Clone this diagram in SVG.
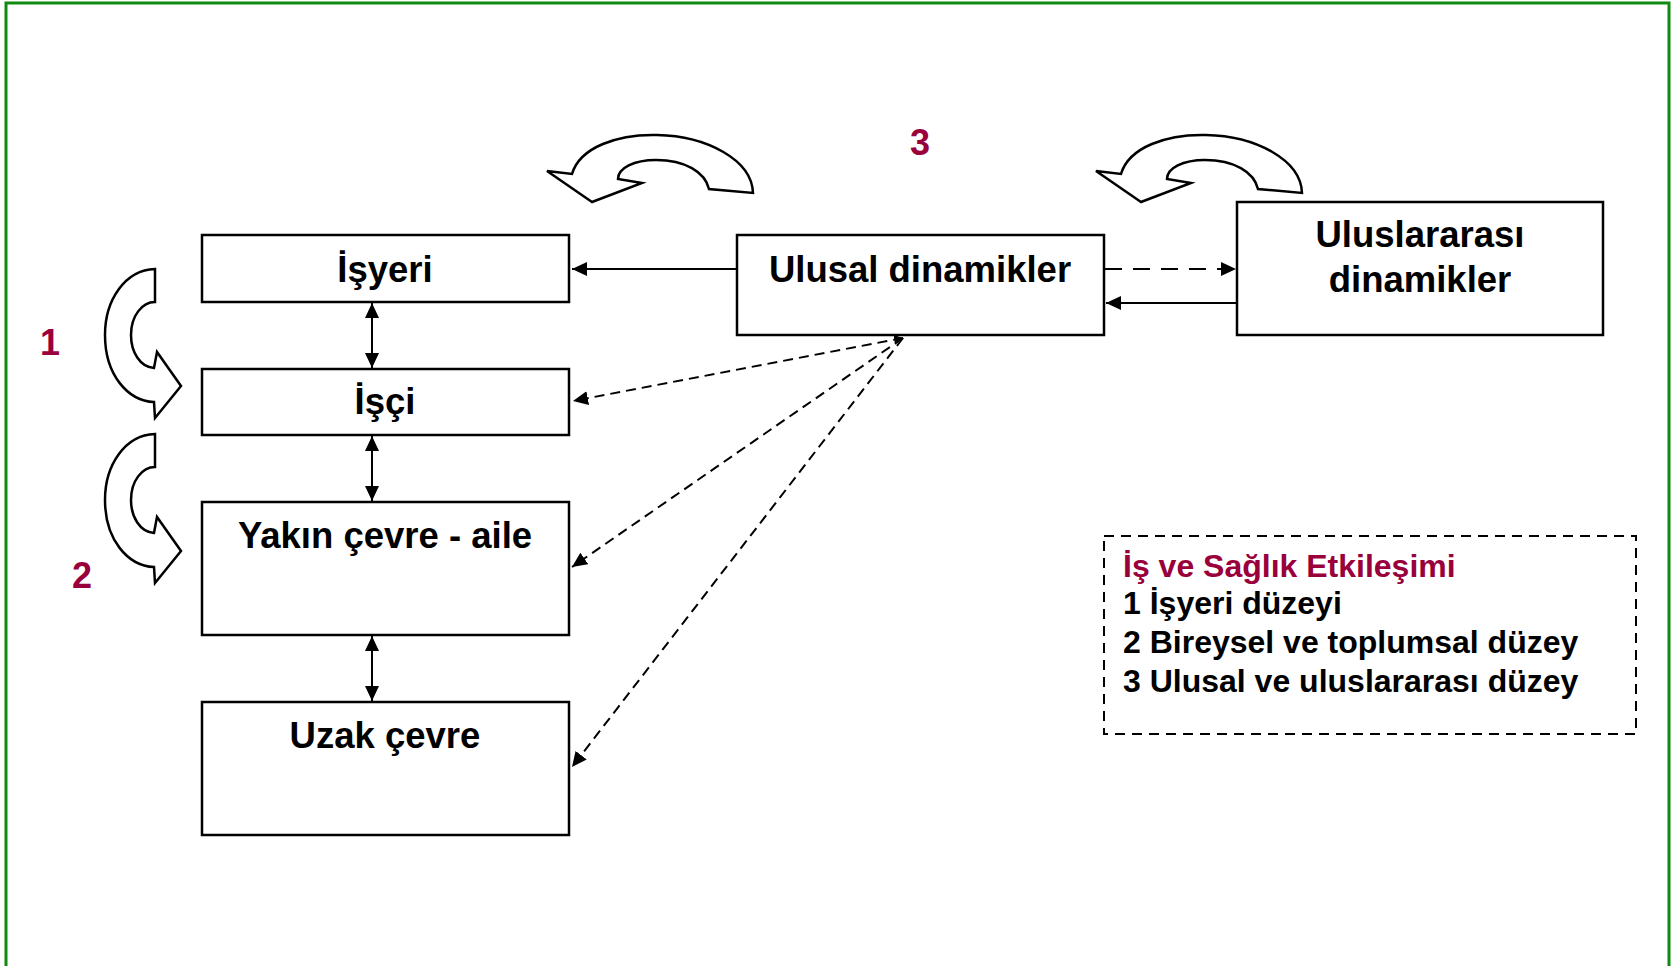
<svg xmlns="http://www.w3.org/2000/svg" width="1678" height="966" viewBox="0 0 1678 966">
<style>
.box{fill:#fff;stroke:#000;stroke-width:2.5}
.lbl{font-family:"Liberation Sans",Arial,sans-serif;font-weight:bold;font-size:36.5px;fill:#000;text-anchor:middle}
.num{font-family:"Liberation Sans",Arial,sans-serif;font-weight:bold;font-size:36px;fill:#99003C;text-anchor:middle}
.leg{font-family:"Liberation Sans",Arial,sans-serif;font-weight:bold;font-size:32px;fill:#000}
.solid{stroke:#000;stroke-width:2;fill:none}
.dash{stroke:#000;stroke-width:2;fill:none;stroke-dasharray:17 11}
.dot{stroke:#000;stroke-width:2;fill:none;stroke-dasharray:10 6}
.barrow{fill:#fff;stroke:#000;stroke-width:2.5;stroke-linejoin:miter}
</style>
<defs>
<marker id="ah" markerWidth="16" markerHeight="14" refX="15" refY="7" orient="auto-start-reverse" markerUnits="userSpaceOnUse">
<path d="M0,0 L15,7 L0,14 Z" fill="#000"/>
</marker>
<marker id="ahs" markerWidth="10" markerHeight="10" refX="9" refY="5" orient="auto-start-reverse" markerUnits="userSpaceOnUse">
<path d="M0,0 L9,5 L0,10 Z" fill="#000"/>
</marker>
</defs>
<rect x="0" y="0" width="1678" height="966" fill="#fff"/>
<path d="M6,970 L6,3 L1669,3 L1669,970" fill="none" stroke="#108A10" stroke-width="3"/>

<g id="curved-arrows">
<path id="ca-top-left" class="barrow" d="M592,202 L547,171 L572,174 C580,147 618,134 657,135 C707,136 752,160 753,193 L709,189 C705,172 685,160 656,160 C634,160 618,168 618,179 L642,183 Z"/>
<path id="ca-top-right" class="barrow" transform="translate(549,0)" d="M592,202 L547,171 L572,174 C580,147 618,134 657,135 C707,136 752,160 753,193 L709,189 C705,172 685,160 656,160 C634,160 618,168 618,179 L642,183 Z"/>
<path id="ca-left-1" class="barrow" d="M155,269 C125,270 105,300 105,335 C105,375 128,401 154,402 L155,418 L181,386 L157,352 L154,368 C140,367 131,352 131,335 C131,316 142,302 155,302 Z"/>
<path id="ca-left-2" class="barrow" transform="translate(0,165)" d="M155,269 C125,270 105,300 105,335 C105,375 128,401 154,402 L155,418 L181,386 L157,352 L154,368 C140,367 131,352 131,335 C131,316 142,302 155,302 Z"/>
</g>

<g id="node-isyeri"><rect class="box" x="202" y="235" width="367" height="67"/><text class="lbl" x="385" y="282">İşyeri</text></g>
<g id="node-isci"><rect class="box" x="202" y="369" width="367" height="66"/><text class="lbl" x="385" y="414">İşçi</text></g>
<g id="node-yakin"><rect class="box" x="202" y="502" width="367" height="133"/><text class="lbl" x="385" y="548">Yakın çevre - aile</text></g>
<g id="node-uzak"><rect class="box" x="202" y="702" width="367" height="133"/><text class="lbl" x="385" y="748">Uzak çevre</text></g>
<g id="node-ulusal"><rect class="box" x="737" y="235" width="367" height="100"/><text class="lbl" x="920" y="282">Ulusal dinamikler</text></g>
<g id="node-uluslararasi"><rect class="box" x="1237" y="202" width="366" height="133"/><text class="lbl" x="1420" y="247">Uluslararası</text><text class="lbl" x="1420" y="292">dinamikler</text></g>

<g id="connectors">
<line class="solid" x1="372" y1="303" x2="372" y2="368" marker-start="url(#ah)" marker-end="url(#ah)"/>
<line class="solid" x1="372" y1="436" x2="372" y2="501" marker-start="url(#ah)" marker-end="url(#ah)"/>
<line class="solid" x1="372" y1="636" x2="372" y2="701" marker-start="url(#ah)" marker-end="url(#ah)"/>
<line class="solid" x1="737" y1="269" x2="572" y2="269" marker-end="url(#ah)"/>
<line class="dash" x1="1105" y1="269" x2="1236" y2="269" marker-end="url(#ah)"/>
<line class="solid" x1="1237" y1="303" x2="1106" y2="303" marker-end="url(#ah)"/>
<line class="dot" x1="903" y1="338" x2="573" y2="401" marker-start="url(#ahs)" marker-end="url(#ah)"/>
<line class="dot" x1="903" y1="338" x2="572" y2="567" marker-end="url(#ah)"/>
<line class="dot" x1="903" y1="338" x2="572" y2="767" marker-end="url(#ah)"/>
</g>

<g id="level-numbers">
<text class="num" x="50" y="355">1</text>
<text class="num" x="82" y="588">2</text>
<text class="num" x="920" y="155">3</text>
</g>

<g id="legend">
<rect x="1104" y="536" width="532" height="198" fill="none" stroke="#000" stroke-width="2" stroke-dasharray="10 7"/>
<text class="leg" x="1123" y="577" style="fill:#99003C">İş ve Sağlık Etkileşimi</text>
<text class="leg" x="1123" y="614">1 İşyeri düzeyi</text>
<text class="leg" x="1123" y="653">2 Bireysel ve toplumsal düzey</text>
<text class="leg" x="1123" y="692">3 Ulusal ve uluslararası düzey</text>
</g>
</svg>
